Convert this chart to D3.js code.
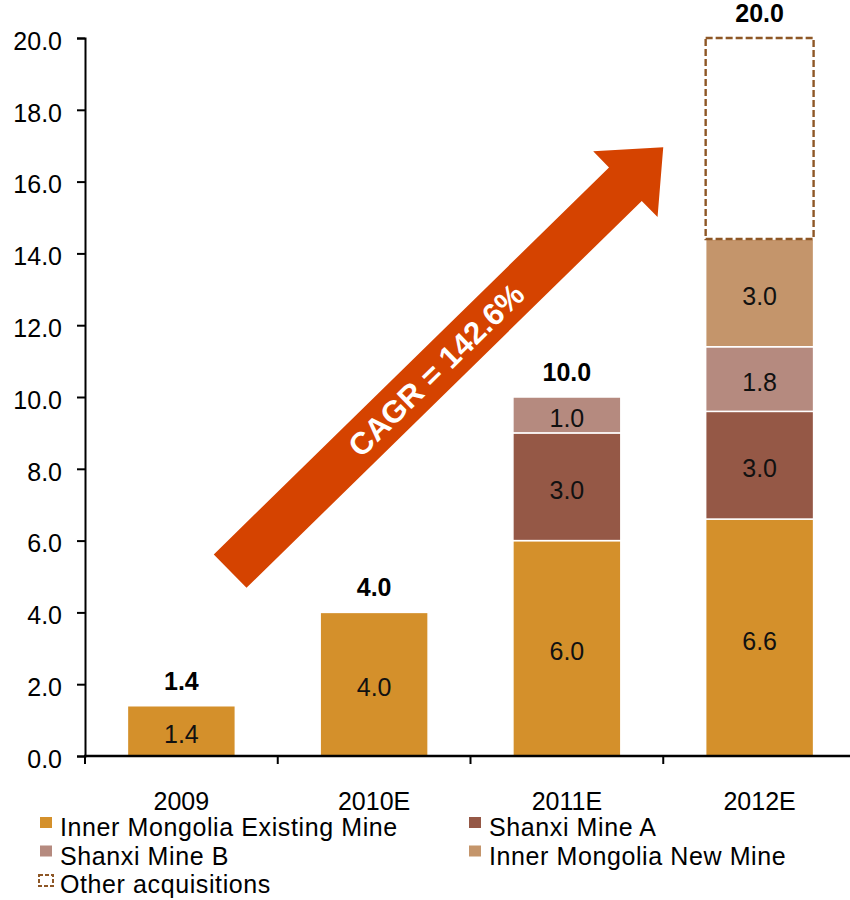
<!DOCTYPE html>
<html>
<head>
<meta charset="utf-8">
<script src="https://cdn.jsdelivr.net/npm/d3@7"></script>
<style>
  html, body { margin: 0; padding: 0; background: #fff; }
  svg { display: block; font-family: "Liberation Sans", Arial, sans-serif; }
</style>
</head>
<body>
<svg id="chart" width="850" height="900"></svg>
<script>
// ---------- data ----------
const categories = ["2009", "2010E", "2011E", "2012E"];
const innerMongoliaExisting = [1.4, 4.0, 6.0, 6.6];
const shanxiMineA = [0, 0, 3.0, 3.0];
const shanxiMineB = [0, 0, 1.0, 1.8];
const innerMongoliaNew = [0, 0, 0, 3.0];
const otherAcquisitions = [0, 0, 0, 5.6];
const totals = [1.4, 4.0, 10.0, 20.0];
const yTicks = [0, 2, 4, 6, 8, 10, 12, 14, 16, 18, 20];
const seriesNames = ["Inner Mongolia Existing Mine", "Shanxi Mine A", "Shanxi Mine B", "Inner Mongolia New Mine", "Other acquisitions"];
const cagrLabel = "CAGR = 142.6%";
// arrow annotation: tail/tip in (category-index, value) terms
const arrowTail = [0.753, 5.15];
const arrowTip = [3.0, 16.96];

// ---------- styles ----------
const colors = ["#D4902B", "#955846", "#B58A7F", "#C4956B", "none"];
const dashColor = "#8E5726";
const arrowColor = "#D54300";

const svg = d3.select("#chart");
const margin = { left: 85 };

const x = d3.scaleBand().domain(categories).range([85, 856]).padding(0);
const y = d3.scaleLinear().domain([0, 20]).range([756, 38]);
const barW = x.bandwidth() * 0.56;
const step = x.step();
const xIdx = i => x.range()[0] + i * step;

// build stack data
const rows = categories.map((c, i) => ({
  cat: c,
  s0: innerMongoliaExisting[i],
  s1: shanxiMineA[i],
  s2: shanxiMineB[i],
  s3: innerMongoliaNew[i],
  s4: otherAcquisitions[i]
}));
const keys = ["s0", "s1", "s2", "s3", "s4"];
const stacked = d3.stack().keys(keys)(rows);

// ---------- bars ----------
const g = svg.append("g");
stacked.forEach((layer, li) => {
  layer.forEach(d => {
    const v = d[1] - d[0];
    if (v <= 0) return;
    const cx = x(d.data.cat) + x.bandwidth() / 2;
    if (li < 4) {
      g.append("rect")
        .attr("x", cx - barW / 2)
        .attr("y", y(d[1]))
        .attr("width", barW)
        .attr("height", y(d[0]) - y(d[1]))
        .attr("fill", colors[li])
        .attr("stroke", "#fff")
        .attr("stroke-width", 1.5);
      g.append("text")
        .attr("x", cx)
        .attr("y", (y(d[0]) + y(d[1])) / 2)
        .attr("dy", "0.48em")
        .attr("text-anchor", "middle")
        .attr("font-size", 25)
        .attr("fill", "#111")
        .text(d3.format(".1f")(v));
    } else {
      g.append("rect")
        .attr("x", cx - barW / 2)
        .attr("y", y(d[1]))
        .attr("width", barW)
        .attr("height", y(d[0]) - y(d[1]))
        .attr("fill", "none")
        .attr("stroke", dashColor)
        .attr("stroke-width", 2.4)
        .attr("stroke-dasharray", "7,3");
    }
  });
});

// totals
categories.forEach((c, i) => {
  svg.append("text")
    .attr("x", x(c) + x.bandwidth() / 2)
    .attr("y", y(totals[i]) - 16)
    .attr("text-anchor", "middle")
    .attr("font-size", 25)
    .attr("font-weight", "bold")
    .attr("fill", "#000")
    .text(d3.format(".1f")(totals[i]));
});

// ---------- axes ----------
const yAxis = d3.axisLeft(y).tickValues(yTicks).tickFormat(d3.format(".1f")).tickSize(8).tickPadding(15);
const yg = svg.append("g").attr("transform", `translate(${margin.left},0)`).call(yAxis);
yg.select(".domain").attr("stroke", "#000").attr("stroke-width", 2);
yg.selectAll(".tick line").attr("stroke", "#000").attr("stroke-width", 2);
yg.selectAll(".tick text").attr("font-size", 25).attr("fill", "#000").attr("dy", "0.45em")
  .attr("font-family", "Liberation Sans, Arial, sans-serif");

// x axis line
svg.append("line").attr("x1", 84).attr("x2", 850).attr("y1", y(0)).attr("y2", y(0))
  .attr("stroke", "#000").attr("stroke-width", 2.5);
// boundary ticks
const bounds = d3.range(categories.length + 1).map(i => xIdx(i));
svg.selectAll(".xb").data(bounds).enter().append("line")
  .attr("x1", d => d).attr("x2", d => d)
  .attr("y1", y(0)).attr("y2", y(0) + 8)
  .attr("stroke", "#000").attr("stroke-width", 2);
// category labels
svg.selectAll(".xl").data(categories).enter().append("text")
  .attr("x", d => x(d) + x.bandwidth() / 2)
  .attr("y", 810)
  .attr("text-anchor", "middle")
  .attr("font-size", 25)
  .attr("fill", "#000")
  .text(d => d);

// ---------- arrow ----------
const p0 = [xIdx(arrowTail[0]), y(arrowTail[1])];
const p1 = [xIdx(arrowTip[0]), y(arrowTip[1])];
const dx = p1[0] - p0[0], dy = p1[1] - p0[1];
const L = Math.hypot(dx, dy);
const ang = Math.atan2(dy, dx) * 180 / Math.PI;
const hw = 23.4, hh = 46, hl = 53;
const arrowPts = [[0, -hw], [L - hl, -hw], [L - hl, -hh], [L, 0], [L - hl, hh], [L - hl, hw], [0, hw]];
const ag = svg.append("g").attr("transform", `translate(${p0[0]},${p0[1]}) rotate(${ang})`);
ag.append("path").attr("d", d3.line()(arrowPts) + "Z").attr("fill", arrowColor);
ag.append("text")
  .attr("x", L * 0.475)
  .attr("y", 0)
  .attr("dy", "0.36em")
  .attr("text-anchor", "middle")
  .attr("font-size", 31)
  .attr("font-weight", "bold")
  .attr("fill", "#fff")
  .text(cagrLabel);

// ---------- legend ----------
const legX = [40, 469];
seriesNames.forEach((name, i) => {
  const col = i % 2, row = Math.floor(i / 2);
  const lx = legX[col];
  const base = 836 + row * 28.5;
  if (i < 4) {
    svg.append("rect").attr("x", lx).attr("y", base - 19).attr("width", 12).attr("height", 11)
      .attr("fill", colors[i]);
  } else {
    svg.append("rect").attr("x", lx - 1).attr("y", base - 18).attr("width", 14).attr("height", 11)
      .attr("fill", "none").attr("stroke", dashColor).attr("stroke-width", 2).attr("stroke-dasharray", "4,2");
  }
  svg.append("text").attr("x", lx + 20).attr("y", base)
    .attr("font-size", 25).attr("letter-spacing", 0.6).attr("fill", "#000").text(name);
});
</script>
</body>
</html>
